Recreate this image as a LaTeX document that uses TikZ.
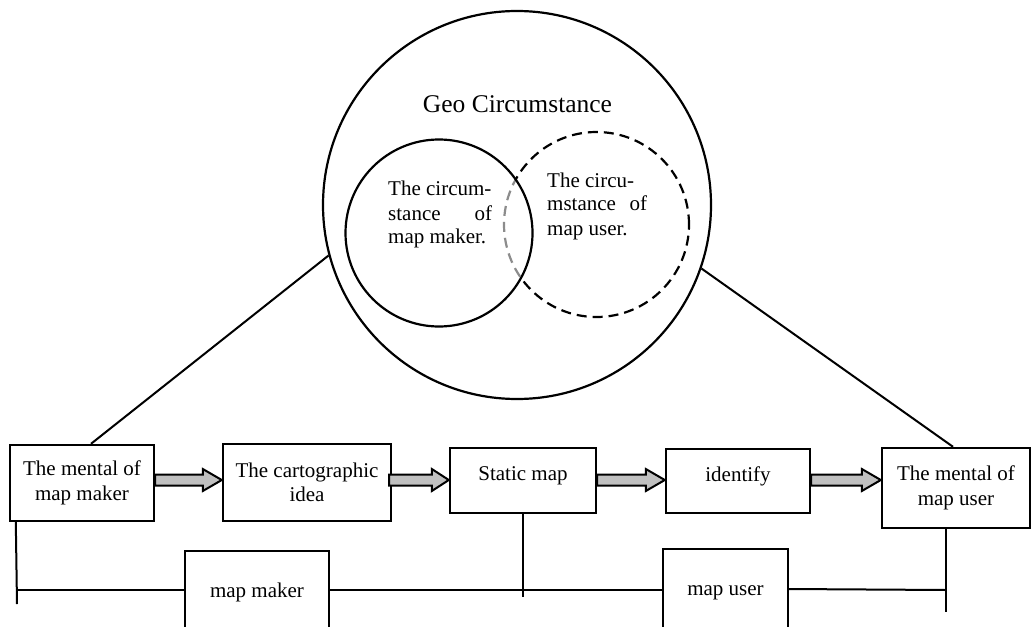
\documentclass[tikz,border=0pt]{standalone}
\usepackage{fontspec}
\setmainfont{Liberation Serif}
\usetikzlibrary{calc}
\definecolor{arrowgray}{RGB}{192,192,192}
\definecolor{dashgray}{RGB}{140,140,140}
\tikzset{
  boxnode/.style={draw, line width=2.4pt, fill=white, inner sep=0pt, align=center,
    font=\fontsize{21}{24.5}\selectfont},
  oneline/.style={text height=10pt, text depth=10pt},
  circline/.style={line width=2.2pt},
  conn/.style={line width=2pt},
  arrowfill/.style={draw, line width=2pt, fill=arrowgray, line join=miter},
  circtext/.style={inner sep=0pt, font=\fontsize{21}{24}\selectfont},
  userdash/.style={dash pattern=on 10pt off 6pt}
}
\newcommand{\blockarrow}[3]{%
  \draw[arrowfill] let \p1=(#1), \p2=(#2) in
    (\x1,\y1+5.5pt) -- (\x2-#3pt,\y1+5.5pt) -- (\x2-#3pt,\y1+11pt) -- (\x2,\y1)
    -- (\x2-#3pt,\y1-11pt) -- (\x2-#3pt,\y1-5.5pt) -- (\x1,\y1-5.5pt) -- cycle;}
\begin{document}
\begin{tikzpicture}[x=1pt,y=-1pt]
\clip (0,0) rectangle (1032,626);
\fill[white] (0,0) rectangle (1032,626);

% circles
\node[circle, draw, circline, minimum size=388pt, inner sep=0pt] (geo) at (517,205) {};
\node[anchor=base, inner sep=0pt, font=\fontsize{25.5}{28}\selectfont] (geotext) at (517.5,112) {Geo Circumstance};
\node[circle, draw, circline, userdash, minimum size=185pt, inner sep=0pt] (user) at (596.5,224.5) {};
\begin{scope}
  \clip (439,233) circle (93.5pt);
  \draw[white, line width=5pt] (user.center) circle (92.5pt);
  \draw[dashgray, circline, userdash] (user.center) circle (92.5pt);
\end{scope}
\node[circle, draw, circline, minimum size=187pt, inner sep=0pt] (maker) at (439,233) {};

% circle texts
\node[circtext, anchor=base west] (mk1) at (388,195) {The circum-};
\node[circtext, anchor=base west] (mk2) at (388,220) {\makebox[104pt][s]{stance of}};
\node[circtext, anchor=base west] (mk3) at (388,243) {map maker.};
\node[circtext, anchor=base west] (us1) at (547,187) {The circu-};
\node[circtext, anchor=base west] (us2) at (547,210) {\makebox[100pt][s]{mstance of}};
\node[circtext, anchor=base west] (us3) at (547,235) {map user.};

% boxes
\node[boxnode, minimum width=144pt, minimum height=76pt] (b1) at (82,483) {The mental of\\map maker};
\node[boxnode, minimum width=168pt, minimum height=77pt] (b2) at (307,482.5) {The cartographic\\idea};
\node[boxnode, oneline, minimum width=146pt, minimum height=65pt] (b3) at (523,480.5) {Static map};
\node[boxnode, oneline, minimum width=144pt, minimum height=64pt] (b4) at (738,481) {identify};
\node[boxnode, minimum width=148pt, minimum height=80pt] (b5) at (956,488) {The mental of\\map user};

% lines from big circle
\draw[conn] (geo.195.9) -- ($(b1.north)+(9,0)$);
\draw[conn] (geo.341.7) -- ($(b5.north)+(-3,0)$);

% block arrows
\coordinate (ay) at (0,480);
\blockarrow{b1.east |- ay}{b2.west |- ay}{19}
\blockarrow{$(b2.east |- ay)+(-3,0)$}{b3.west |- ay}{17}
\blockarrow{b3.east |- ay}{b4.west |- ay}{19}
\blockarrow{b4.east |- ay}{b5.west |- ay}{19}

% bottom boxes
\node[boxnode, line width=2pt, oneline, minimum width=144pt, minimum height=92pt] (mm) at (257,597) {map maker};
\node[boxnode, line width=2pt, oneline, minimum width=125pt, minimum height=92pt] (mu) at (725.5,595) {map user};

% bottom lines
\coordinate (hy) at (0,590);
\coordinate (L) at (17,604);
\coordinate (S) at (523,597);
\coordinate (R) at (946,612);
\draw[conn] ($(b1.south west)+(7,0)$) -- (L);
\draw[conn] (L |- hy) -- (mm.west |- hy);
\draw[conn] (mm.east |- hy) -- (mu.west |- hy);
\draw[conn] (b3.south) -- (b3.south |- S);
\draw[conn] ($(mu.east |- hy)+(0,-1)$) -- (R |- hy);
\draw[conn] ($(b5.south)+(-10,0)$) -- (R);
\end{tikzpicture}
\end{document}
